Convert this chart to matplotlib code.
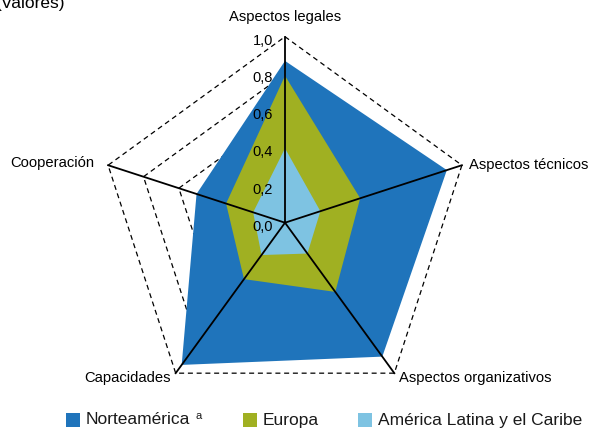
import numpy as np
import matplotlib
matplotlib.use("Agg")
import matplotlib.pyplot as plt
from matplotlib.patches import Rectangle

plt.rcParams['font.family'] = ['Liberation Sans', 'DejaVu Sans']

categories = ["Aspectos legales", "Aspectos técnicos", "Aspectos organizativos",
              "Capacidades", "Cooperación"]
series_names = ["Norteamérica", "Europa", "América Latina y el Caribe"]
norteamerica = [0.87, 0.915, 0.89, 0.945, 0.50]
europa = [0.79, 0.425, 0.46, 0.375, 0.333]
america_latina = [0.40, 0.20, 0.205, 0.215, 0.18]
colors = ["#1F74BB", "#A0B022", "#7EC3E2"]
rticks = [0.0, 0.2, 0.4, 0.6, 0.8, 1.0]
rtick_labels = ["0,0", "0,2", "0,4", "0,6", "0,8", "1,0"]

W, H = 590, 430
fig = plt.figure(figsize=(W / 100, H / 100), dpi=100)
cx, cy, R = 285, 222.7, 186
ax = fig.add_axes([(cx - R) / W, (H - cy - R) / H, 2 * R / W, 2 * R / H],
                  projection='polar')
ax.set_theta_offset(np.pi / 2)
ax.set_theta_direction(-1)
ax.set_ylim(0, 1)
ax.set_xticks([])
ax.set_yticks([])
ax.grid(False)
ax.spines['polar'].set_visible(False)
ax.patch.set_visible(False)

n = len(categories)
theta = np.arange(n) * 2 * np.pi / n
theta_c = np.append(theta, theta[0])

# dashed pentagon grid
for r in rticks[1:]:
    ax.plot(theta_c, [r] * (n + 1), color='black', lw=0.9, ls=(0, (4, 3)),
            zorder=1, clip_on=False)

for vals, col in zip([norteamerica, europa, america_latina], colors):
    v = np.append(vals, vals[0])
    ax.fill(theta_c, v, color=col, lw=0, zorder=2)

# spokes
for t in theta:
    ax.plot([t, t], [0, 1], color='black', lw=1.3, zorder=3, clip_on=False)

# radial tick labels
for r, lab in zip(rticks, rtick_labels):
    ax.annotate(lab, xy=(0, r), xytext=(-12, -4), textcoords='offset pixels',
                ha='right', va='center', fontsize=10.5, zorder=4,
                annotation_clip=False)

# category labels
offsets = [((0, 20), 'center', 'center'),
           ((7, 0), 'left', 'center'),
           ((5, -5), 'left', 'center'),
           ((-5, -5), 'right', 'center'),
           ((-14, 2), 'right', 'center')]
for t, lab, (off, ha, va) in zip(theta, categories, offsets):
    ax.annotate(lab, xy=(t, 1.0), xytext=off, textcoords='offset pixels',
                ha=ha, va=va, fontsize=10.6, annotation_clip=False)

# partial subtitle at top (cut off in the reference)
fig.text(-4 / W, (H - 8) / H, "(Valores)", ha='left', va='baseline', fontsize=12.5)

# legend
leg_y = H - 420
sq = 14
leg_x = [66, 243, 358]
for x, name, col in zip(leg_x, series_names, colors):
    fig.add_artist(Rectangle((x / W, (leg_y - sq / 2) / H), sq / W, sq / H,
                             transform=fig.transFigure, color=col, lw=0))
    fig.text((x + 20) / W, leg_y / H, name, ha='left', va='center',
             fontsize=12.5, color='#1a1a1a')
fig.text(195 / W, (leg_y + 4) / H, "a", ha='left', va='center', fontsize=8,
         color='#1a1a1a')

fig.savefig("out.png", dpi=100)
